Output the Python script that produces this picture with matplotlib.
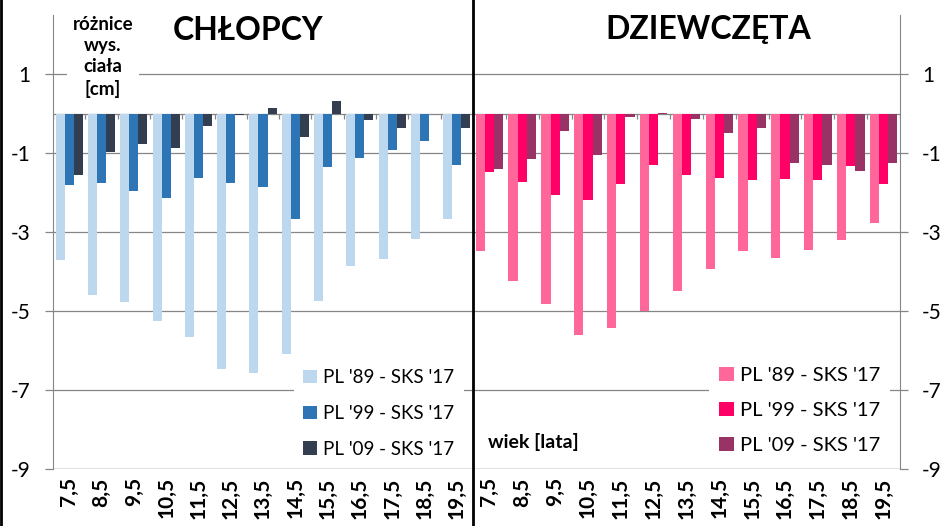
import numpy as np
import matplotlib.pyplot as plt
from matplotlib.lines import Line2D

plt.rcParams['font.family'] = ['Lato', 'DejaVu Sans']

# age groups
ages = ['7,5', '8,5', '9,5', '10,5', '11,5', '12,5', '13,5', '14,5',
        '15,5', '16,5', '17,5', '18,5', '19,5']

# height differences [cm], boys
boys_89 = [-3.70, -4.58, -4.78, -5.26, -5.66, -6.46, -6.57, -6.09,
           -4.75, -3.86, -3.67, -3.17, -2.66]
boys_99 = [-1.81, -1.75, -1.95, -2.13, -1.64, -1.75, -1.85, -2.66,
           -1.34, -1.11, -0.91, -0.68, -1.31]
boys_09 = [-1.56, -0.96, -0.78, -0.86, -0.32, -0.03, 0.14, -0.58,
           0.31, -0.17, -0.37, -0.02, -0.37]

# height differences [cm], girls
girls_89 = [-3.47, -4.23, -4.83, -5.60, -5.42, -5.01, -4.49, -3.93,
            -3.47, -3.65, -3.44, -3.21, -2.78]
girls_99 = [-1.47, -1.72, -2.07, -2.18, -1.79, -1.31, -1.56, -1.64,
            -1.67, -1.66, -1.69, -1.33, -1.79]
girls_09 = [-1.39, -1.14, -0.45, -1.05, -0.09, 0.02, -0.14, -0.50,
            -0.37, -1.26, -1.29, -1.44, -1.24]

series_names = ["PL '89 - SKS '17", "PL '99 - SKS '17", "PL '09 - SKS '17"]
boys_colors = ['#BDD7EE', '#2E75B6', '#333F50']
girls_colors = ['#FF6699', '#FF0066', '#993366']

yticks = [1, -1, -3, -5, -7, -9]
grid_col = '#868686'

W, H = 953, 526
fig = plt.figure(figsize=(W / 100, H / 100), dpi=100)
fig.patch.set_facecolor('white')

ax_l = fig.add_axes([53 / W, (H - 469) / H, 420 / W, 454 / H])
ax_r = fig.add_axes([473 / W, (H - 469) / H, 427 / W, 454 / H])

x = np.arange(len(ages))
w = 0.28


def draw_panel(ax, data, colors):
    for i, (vals, col, name) in enumerate(zip(data, colors, series_names)):
        ax.bar(x + (i - 1) * w, vals, width=w, color=col, label=name, zorder=3)
    ax.set_xlim(-0.5, len(ages) - 0.5)
    ax.set_ylim(-9, 2.5)
    ax.set_yticks(yticks)
    ax.set_yticklabels([str(t) for t in yticks], fontsize=15)
    ax.grid(axis='y', color=grid_col, lw=0.9)
    ax.set_axisbelow(True)
    ax.axhline(0, color=grid_col, lw=0.9, zorder=2)
    ax.axhline(-9, color=grid_col, lw=0.9, zorder=6)
    ax.vlines(np.arange(len(ages) + 1) - 0.5, -0.13, 0, color=grid_col, lw=0.9, zorder=2)
    ax.set_xticks(x)
    ax.set_xticklabels(ages, rotation=90, fontsize=15, fontweight='bold')
    ax.tick_params(axis='x', length=0, pad=6)
    ax.tick_params(axis='y', length=6, color=grid_col, width=0.9)
    for s in ['top', 'bottom', 'left', 'right']:
        ax.spines[s].set_visible(False)


draw_panel(ax_l, [boys_89, boys_99, boys_09], boys_colors)
draw_panel(ax_r, [girls_89, girls_99, girls_09], girls_colors)

ax_l.spines['left'].set_visible(True)
ax_l.spines['left'].set_color(grid_col)
ax_l.tick_params(axis='y', pad=10)

ax_r.spines['right'].set_visible(True)
ax_r.spines['right'].set_color(grid_col)
ax_r.yaxis.tick_right()
ax_r.tick_params(axis='y', pad=10)

leg_l = ax_l.legend(loc='lower right', bbox_to_anchor=(1.0, -0.016), fontsize=13.5,
                    frameon=True, fancybox=False, edgecolor='none', framealpha=1,
                    handlelength=0.7, handleheight=0.7, handletextpad=0.35,
                    labelspacing=1.0, borderpad=0.5)
leg_l.set_zorder(5)
leg_r = ax_r.legend(loc='lower right', bbox_to_anchor=(1.0, -0.011), fontsize=14.5,
                    frameon=True, fancybox=False, edgecolor='none', framealpha=1,
                    handlelength=0.7, handleheight=0.7, handletextpad=0.3,
                    labelspacing=0.88, borderpad=0.5)
leg_r.set_zorder(5)

# titles and labels
fig.text(248 / W, 1 - 30 / H, 'CHŁOPCY', ha='center', va='center',
         fontsize=23, fontweight='bold')
fig.text(708 / W, 1 - 30 / H, 'DZIEWCZĘTA', ha='center', va='center',
         fontsize=23, fontweight='bold')
fig.text(103 / W, 1 - 57 / H, 'różnice\nwys.\nciała\n[cm]', ha='center', va='center',
         fontsize=13.5, fontweight='bold', linespacing=1.3, zorder=6,
         bbox=dict(facecolor='white', edgecolor='none', pad=4))
fig.text(488 / W, 1 - 442 / H, 'wiek [lata]', ha='left', va='center',
         fontsize=14, fontweight='bold')

# divider and frame
fig.add_artist(Line2D([473 / W, 473 / W], [0, 1], color='black', lw=2,
                      transform=fig.transFigure))
fig.add_artist(Line2D([1 / W, 1 / W], [0, 1], color='black', lw=2,
                      transform=fig.transFigure))

fig.savefig('out.png', dpi=100)
